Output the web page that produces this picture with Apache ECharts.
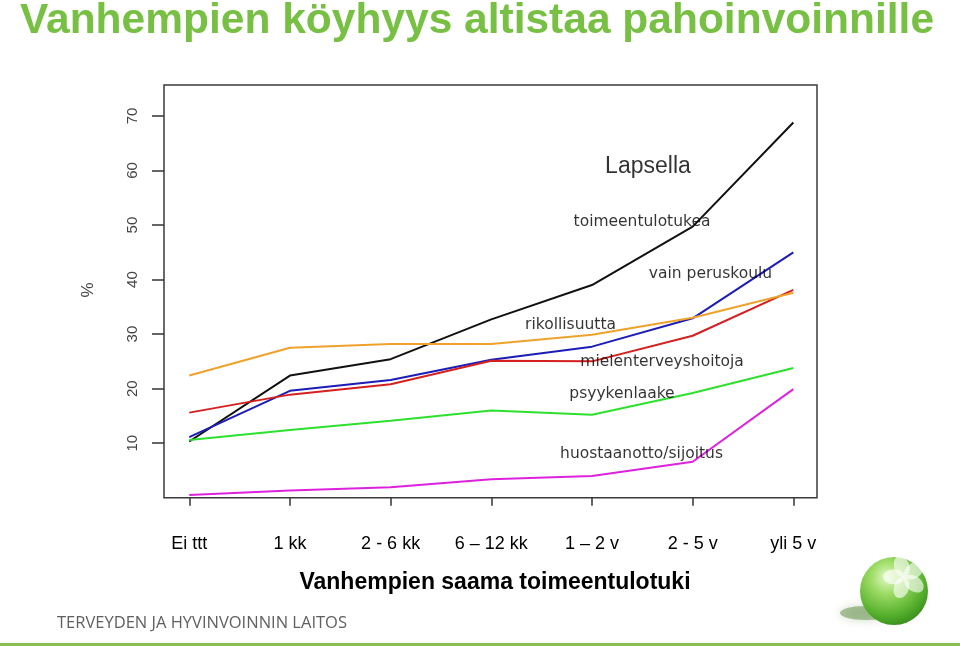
<!DOCTYPE html>
<html>
<head>
<meta charset="utf-8">
<script src="https://cdn.jsdelivr.net/npm/echarts@6/dist/echarts.min.js"></script>
<style>
html,body{margin:0;padding:0;background:#fff;}
#chart{width:960px;height:646px;}
</style>
</head>
<body>
<div id="chart"></div>
<script>
// ---- data ----
const categories = ['Ei ttt', '1 kk', '2 - 6 kk', '6 \u2013 12 kk', '1 \u2013 2 v', '2 - 5 v', 'yli 5 v'];
const xPositions = [1, 2, 3, 4, 5, 6, 7];
const yTickValues = [10, 20, 30, 40, 50, 60, 70];

const toimeentulotukea = [10.3, 22.4, 25.4, 32.7, 39.0, 49.7, 68.8];
const vainPeruskoulu = [11.1, 19.6, 21.6, 25.3, 27.7, 32.9, 45.0];
const mielenterveyshoitoja = [15.6, 18.9, 20.8, 25.1, 25.0, 29.7, 38.1];
const rikollisuutta = [22.4, 27.5, 28.2, 28.2, 29.9, 33.0, 37.6];
const psyykenlaake = [10.6, 12.4, 14.1, 16.0, 15.2, 19.2, 23.8];
const huostaanotto = [0.5, 1.3, 1.9, 3.4, 4.0, 6.6, 19.9];

const seriesNames = ['toimeentulotukea', 'vain peruskoulu', 'mielenterveyshoitoja', 'rikollisuutta', 'psyykenlaake', 'huostaanotto/sijoitus'];
const seriesValues = [toimeentulotukea, vainPeruskoulu, mielenterveyshoitoja, rikollisuutta, psyykenlaake, huostaanotto];
const seriesColors = ['#111111', '#1c1cb8', '#d42020', '#eea22c', '#2ee02e', '#dd22dd'];

// text annotations placed in data coordinates
const annotationNames = ['Lapsella', 'toimeentulotukea', 'vain peruskoulu', 'rikollisuutta', 'mielenterveyshoitoja', 'psyykenlaake', 'huostaanotto/sijoitus'];
const annotationX = [5.556, 5.497, 6.177, 4.787, 5.696, 5.298, 5.492];
const annotationY = [60.7, 50.6, 41.0, 31.6, 24.8, 19.0, 8.0];

const titleText = 'Vanhempien k\u00f6yhyys altistaa pahoinvoinnille';
const xAxisTitle = 'Vanhempien saama toimeentulotuki';
const yAxisTitle = '%';
const footerText = 'TERVEYDEN JA HYVINVOINNIN LAITOS';

// ---- chart ----
const chart = echarts.init(document.getElementById('chart'), null, {renderer: 'canvas'});

const lineSeries = seriesNames.map((name, i) => ({
  type: 'line',
  name: name,
  data: xPositions.map((x, j) => [x, seriesValues[i][j]]),
  symbol: 'none',
  lineStyle: {color: seriesColors[i], width: 2},
  itemStyle: {color: seriesColors[i]},
  z: 3,
  silent: true,
  animation: false
}));

const annotationSeries = {
  type: 'scatter',
  symbolSize: 0,
  silent: true,
  animation: false,
  z: 5,
  itemStyle: {color: '#000'},
  data: annotationNames.map((n, i) => {
    const item = {name: n, value: [annotationX[i], annotationY[i]]};
    if (i === 0) {
      item.label = {fontFamily: '"Liberation Sans", Arial, sans-serif', fontSize: 23, color: '#000'};
    }
    return item;
  }),
  label: {
    show: true,
    position: 'inside',
    formatter: '{b}',
    fontFamily: '"DejaVu Sans", sans-serif',
    fontSize: 15.5,
    color: '#000',
    textBorderWidth: 0
  }
};

const FONT = '"Liberation Sans", Arial, Helvetica, sans-serif';

chart.setOption({
  animation: false,
  backgroundColor: '#ffffff',
  grid: {
    left: 164, right: 143, top: 85, bottom: 148.3,
    show: true, borderColor: '#3a3a3a', borderWidth: 1.5, backgroundColor: '#fff', z: 1
  },
  xAxis: {
    type: 'value',
    min: 0.749, max: 7.235,
    axisLine: {show: false},
    splitLine: {show: false},
    axisTick: {show: true, customValues: xPositions, length: 8, lineStyle: {color: '#333', width: 1.5}},
    axisLabel: {
      show: true, customValues: xPositions, margin: 37,
      formatter: v => categories[Math.round(v) - 1] || '',
      fontFamily: FONT, fontSize: 18, color: '#000'
    }
  },
  yAxis: {
    type: 'value',
    min: 0, max: 75.68, interval: 10,
    axisLine: {show: false},
    axisTick: {show: true, customValues: yTickValues, length: 12, lineStyle: {color: '#333', width: 1.5}},
    axisLabel: {
      show: true, customValues: yTickValues, rotate: 90, margin: 24,
      fontFamily: FONT, fontSize: 15, color: '#444'
    },
    splitLine: {show: true, lineStyle: {color: '#222', width: 1, type: [2, 3]}}
  },
  series: lineSeries.concat([annotationSeries]),
  graphic: [
    {type: 'text', left: 20, top: 0, z: 10,
      style: {text: titleText, font: 'bold 42.5px ' + FONT, fill: '#78c043'}},
    {type: 'text', x: 88, y: 290, rotation: Math.PI / 2, z: 10,
      style: {text: yAxisTitle, font: '17px ' + FONT, fill: '#444', align: 'center', verticalAlign: 'middle'}},
    {type: 'text', x: 495, y: 583, z: 10,
      style: {text: xAxisTitle, font: 'bold 23px ' + FONT, fill: '#000', align: 'center', verticalAlign: 'middle'}},
    {type: 'text', x: 57, y: 623, z: 10,
      style: {text: footerText, font: '16.5px "Open Sans", sans-serif', fill: '#606060', align: 'left', verticalAlign: 'middle'}},
    {type: 'rect', shape: {x: 0, y: 643, width: 960, height: 3}, z: 10, style: {fill: '#86c152'}},
    // logo: shadow
    {type: 'ellipse', shape: {cx: 866, cy: 613, rx: 26, ry: 7}, z: 10,
      style: {fill: 'rgba(80,130,50,0.45)', shadowBlur: 10, shadowColor: 'rgba(80,130,50,0.6)'}},
    // logo: sphere
    {type: 'circle', shape: {cx: 894, cy: 591, r: 34}, z: 11,
      style: {fill: new echarts.graphic.RadialGradient(0.4, 0.3, 0.8, [
        {offset: 0, color: '#e2f9c8'}, {offset: 0.3, color: '#9edc66'},
        {offset: 0.72, color: '#52ad2a'}, {offset: 1, color: '#2e7f16'}])}},
    {type: 'group', x: 905, y: 577, z: 12, children: [0, 1, 2, 3, 4].map(k => ({
      type: 'ellipse', rotation: -k * 2 * Math.PI / 5 + 0.3,
      shape: {cx: 0, cy: -11, rx: 7.5, ry: 11},
      z: 12,
      style: {fill: 'rgba(255,255,255,0.62)'}
    }))}
  ]
});
</script>
</body>
</html>
